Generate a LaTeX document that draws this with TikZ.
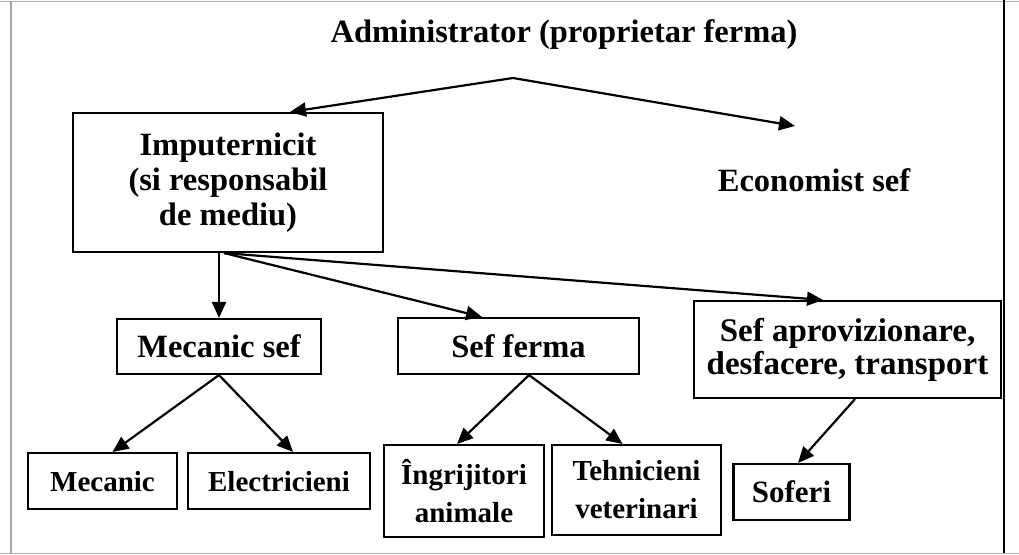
\documentclass[tikz,border=0pt]{standalone}
\usepackage{fontspec}
\setmainfont{Liberation Serif}
\usetikzlibrary{arrows.meta}
\begin{document}
\begin{tikzpicture}[x=1pt,y=-1pt,
  every node/.style={font=\bfseries\fontsize{32.5}{35}\selectfont, align=center, inner sep=0pt},
  small/.style={font=\bfseries\fontsize{29}{38}\selectfont},
  box/.style={draw, line width=2.1pt, rectangle},
  link/.style={line width=2.2pt, -{Triangle[length=16pt,width=14pt]}}]
\useasboundingbox (0,0) rectangle (1019,554);
% frame
\draw[gray!60, line width=1pt] (0,1) -- (1019,1);
\draw[gray!60, line width=1pt] (0,553) -- (1019,553);
\draw[gray!70, line width=1.2pt] (11,1) -- (11,553);
\draw[black, line width=2.6pt] (1004,0) -- (1004,553);
% texts
\node (admin) at (564,35) {Administrator (proprietar ferma)};
\node (econ) at (814,180) {Economist sef};
% boxes
\node[box, minimum width=310pt, minimum height=139pt] (imp) at (228,182.5) {Imputernicit\\(si responsabil\\de mediu)};
\node[box, minimum width=204pt, minimum height=55pt, text depth=0pt] (mecsef) at (219,346.5) {Mecanic sef};
\node[box, minimum width=241pt, minimum height=56pt, text depth=0pt] (sefferma) at (518.5,346) {Sef ferma};
\node[box, minimum width=307pt, minimum height=97pt, font=\bfseries\fontsize{33}{33}\selectfont] (sefaprov) at (847.5,349.5) {Sef aprovizionare,\\desfacere, transport};
\node[box, small, minimum width=149pt, minimum height=56pt, text depth=0pt] (mecanic) at (102.5,481) {Mecanic};
\node[box, small, minimum width=182pt, minimum height=56pt, text depth=0pt] (electr) at (279,481) {Electricieni};
\node[box, small, minimum width=160pt, minimum height=92pt] (ingr) at (464,491) {Îngrijitori\\animale};
\node[box, small, minimum width=169pt, minimum height=90pt] (tehn) at (636.5,490) {Tehnicieni\\veterinari};
\node[box, font=\bfseries\fontsize{31}{35}\selectfont, minimum width=116pt, minimum height=56pt, text depth=0pt] (soferi) at (791.5,492) {Soferi};
% connector points
\coordinate (apex) at (513,78);
\coordinate (ecoTip) at (795,126);
\coordinate (impO) at ([xshift=-4pt]imp.south);
% connectors
\draw[link] (apex) -- ([xshift=62pt]imp.north);
\draw[link] (apex) -- (ecoTip);
\draw[link] (mecsef.north |- imp.south) -- (mecsef.north);
\draw[link] (impO) -- ([xshift=-36.5pt]sefferma.north);
\draw[link] (impO) -- ([xshift=-24.5pt]sefaprov.north);
\draw[link] (mecsef.south) -- ([xshift=10pt]mecanic.north);
\draw[link] (mecsef.south) -- ([xshift=14pt]electr.north);
\draw[link] ([xshift=10.5pt]sefferma.south) -- ([xshift=-7pt]ingr.north);
\draw[link] ([xshift=10.5pt]sefferma.south) -- ([xshift=-14pt]tehn.north);
\draw[link] ([xshift=7.5pt]sefaprov.south) -- ([xshift=6.5pt]soferi.north);
\end{tikzpicture}
\end{document}
